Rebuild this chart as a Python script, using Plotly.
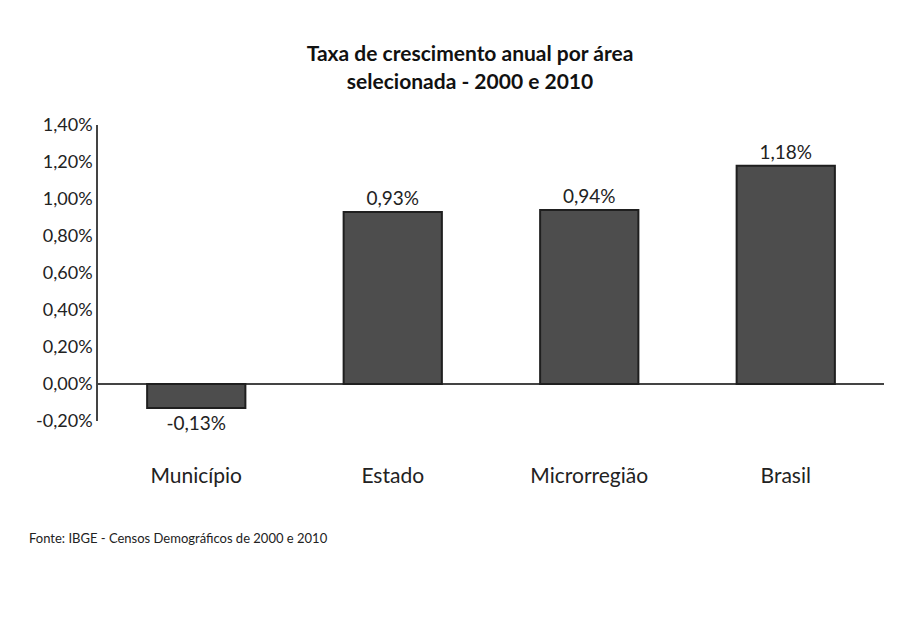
import plotly.graph_objects as go

categories = ["Município", "Estado", "Microrregião", "Brasil"]
values = [-0.13, 0.93, 0.94, 1.18]
y_ticks = [-0.2, 0.0, 0.2, 0.4, 0.6, 0.8, 1.0, 1.2, 1.4]
y_tick_labels = ["-0,20%", "0,00%", "0,20%", "0,40%", "0,60%", "0,80%", "1,00%", "1,20%", "1,40%"]
title_text = "Taxa de crescimento anual por área<br>selecionada - 2000 e 2010"
source_text = "Fonte: IBGE - Censos Demográficos de 2000 e 2010"

fig = go.Figure(
    go.Bar(
        x=categories,
        y=values,
        marker=dict(color="#4d4d4d", line=dict(color="#1f1f1f", width=2)),
        texttemplate="%{y:.2f}%",
        textposition="outside",
        textfont=dict(size=19, color="#222222"),
        cliponaxis=False,
    )
)

fig.update_layout(
    width=906,
    height=626,
    separators=",.",
    paper_bgcolor="white",
    plot_bgcolor="white",
    font=dict(family="Lato, Open Sans, sans-serif", color="#222222"),
    title=dict(
        text=title_text,
        x=0.51,
        xanchor="center",
        y=0.915,
        yanchor="top",
        font=dict(size=21, color="#111111", family="Lato, Open Sans, sans-serif", weight="bold"),
    ),
    margin=dict(l=90, r=30, t=117, b=213),
    bargap=0.5,
    showlegend=False,
)

fig.update_yaxes(
    range=[-0.2, 1.4],
    tickvals=y_ticks,
    ticktext=y_tick_labels,
    showgrid=False,
    showline=True,
    linecolor="#444444",
    linewidth=1.5,
    zeroline=True,
    zerolinecolor="#444444",
    zerolinewidth=1.5,
    tickfont=dict(size=18, color="#222222"),
    ticks="",
)

fig.update_xaxes(
    showline=False,
    showgrid=False,
    ticks="",
    tickfont=dict(size=21, color="#222222"),
    ticklabelstandoff=40,
)

fig.add_annotation(
    text=source_text,
    xref="paper",
    yref="paper",
    x=-0.09,
    y=-0.36,
    xanchor="left",
    yanchor="top",
    showarrow=False,
    font=dict(size=13, color="#222222"),
)

fig.write_html("out.html")
